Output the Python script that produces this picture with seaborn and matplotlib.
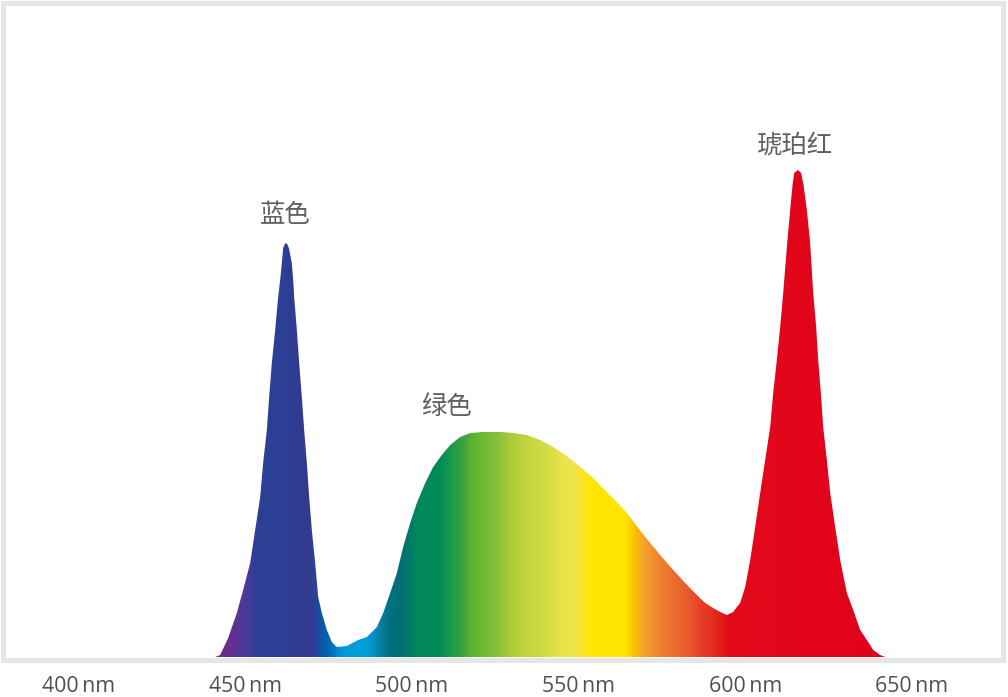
import numpy as np
import matplotlib
matplotlib.use("Agg")
import matplotlib.pyplot as plt
import seaborn as sns
from matplotlib.colors import LinearSegmentedColormap, to_rgb
from matplotlib.patches import Rectangle

# ---- data (relative intensity, arbitrary units) ----
wavelength = [441.0, 442.5, 444.9, 447.5, 449.4, 451.5, 453.0, 454.5, 455.4, 456.5,
              457.2, 458.0, 459.0, 459.9, 460.5, 461.0, 461.4, 461.9, 462.3, 462.6,
              463.1, 464.0, 464.4, 464.7, 465.5, 466.2, 467.0, 467.7, 468.5, 469.2,
              470.0, 471.0, 471.9, 473.0, 474.5, 476.0, 477.5, 480.5, 483.9, 486.5,
              489.5, 491.4, 493.5, 495.5, 497.4, 499.5, 501.5, 504.0, 506.4, 509.0,
              511.5, 514.5, 517.5, 521.4, 526.5, 530.4, 534.5, 538.5, 542.4, 546.5,
              550.5, 554.4, 558.5, 561.5, 564.5, 567.9, 571.5, 575.0, 578.4, 582.0,
              585.5, 588.0, 590.4, 592.5, 594.5, 596.4, 597.5, 598.5, 600.0, 601.5,
              603.0, 604.5, 606.0, 607.5, 608.4, 609.5, 610.5, 611.4, 612.6, 613.5,
              614.2, 614.7, 615.8, 616.8, 617.5, 618.5, 619.5, 620.4, 621.3, 621.9,
              622.7, 623.4, 624.5, 625.5, 627.0, 628.5, 630.5, 632.4, 634.5, 636.5,
              638.4, 640.5, 642.0]
intensity = [0, 2, 19, 44, 67, 94, 127, 160, 194, 227,
             260, 294, 327, 360, 377, 394, 409, 413, 414, 413,
             409, 394, 377, 360, 327, 294, 260, 227, 194, 160,
             127, 94, 60, 44, 27, 15, 10, 11, 17, 20,
             30, 44, 64, 84, 110, 134, 154, 174, 190, 202,
             212, 220, 224, 225, 225, 224, 222, 217, 210, 201,
             190, 179, 165, 155, 144, 129, 114, 100, 87, 74,
             62, 54, 49, 45, 42, 45, 50, 54, 70, 97,
             130, 164, 197, 230, 264, 297, 330, 364, 414, 447,
             472, 484, 487, 484, 472, 447, 414, 364, 330, 297,
             264, 230, 197, 164, 130, 97, 64, 47, 27, 17,
             7, 2, 0]

tick_values = [400, 450, 500, 550, 600, 650]
tick_labels = [f"{v}\u2009nm" for v in tick_values]

peak_labels = ["蓝色", "绿色", "琥珀红"]
peak_label_x = [462.0, 510.3, 615.0]
peak_label_y = [442, 250, 511]

# spectrum colour stops (wavelength, colour)
stop_nm = [441.0, 446, 450, 453, 458, 462, 466, 469, 471, 473, 475, 477.5, 480, 485,
           488, 490, 493, 496, 499, 502, 508, 512, 515, 518, 521, 526, 530, 536, 541,
           545, 548, 551, 554, 564, 566.5, 569.5, 574, 579, 583, 586, 591, 595, 642]
stop_col = ["#6b2a8b", "#66308f", "#4c3a9a", "#2f3f95", "#2a4196", "#2b3f95", "#313b8f",
            "#343a8e", "#28439b", "#0a57a8", "#0066b3", "#0088cc", "#009ad8", "#00a0dc",
            "#0395cc", "#0a82a8", "#037282", "#006e78", "#00796a", "#00885a", "#008a58",
            "#1d9a4a", "#3aa040", "#5ab432", "#6cb834", "#8cc03a", "#b0cc3c", "#c8d640",
            "#d6dc44", "#eae24c", "#f0e44c", "#f8e62a", "#ffe600", "#ffe600", "#fcc400",
            "#f5a22c", "#ef8430", "#eb6a30", "#e85a2e", "#e64428", "#e3281e", "#e20a1a",
            "#e2001a"]

# ---- figure ----
sns.set_theme(style="white")
W, H, DPI = 1008, 697, 100
fig = plt.figure(figsize=(W / DPI, H / DPI), dpi=DPI)
fig.patch.set_facecolor("white")

base_px = 657          # baseline (from top)
px_per_nm = 166.67 / 50
x400_px = 78.5
xmin = 400 - x400_px / px_per_nm
xmax = 400 + (W - x400_px) / px_per_nm

ax = fig.add_axes([0, (H - base_px) / H, 1, base_px / H])
ax.set_xlim(xmin, xmax)
ax.set_ylim(0, base_px)
ax.set_facecolor("white")
for s in ax.spines.values():
    s.set_visible(False)

df = {"wavelength": wavelength, "intensity": intensity}
sns.lineplot(x="wavelength", y="intensity", data=df, ax=ax, linewidth=0, color="#e2001a")

poly = ax.fill_between(wavelength, intensity, 0, facecolor="none", edgecolor="none")
clip = poly.get_paths()[0]

lo, hi = stop_nm[0], stop_nm[-1]
cmap = LinearSegmentedColormap.from_list(
    "spec", [((n - lo) / (hi - lo), to_rgb(c)) for n, c in zip(stop_nm, stop_col)], N=1024)
grad = np.linspace(0, 1, 1200).reshape(1, -1)
im = ax.imshow(grad, cmap=cmap, aspect="auto", extent=[lo, hi, 0, max(intensity) + 5],
               origin="lower", interpolation="bilinear", zorder=2)
im.set_clip_path(clip, transform=ax.transData)

for t, xv, yv in zip(peak_labels, peak_label_x, peak_label_y):
    ax.text(xv, yv, t, ha="center", va="center", fontsize=18.3, color="#606060",
            family=["Noto Sans CJK SC", "DejaVu Sans"], zorder=3)

ax.set_xticks(tick_values)
ax.set_xticklabels(tick_labels, fontsize=15.3, color="#505050",
                   family=["Open Sans", "DejaVu Sans"])
ax.tick_params(axis="x", length=0, pad=14)
ax.set_yticks([])
ax.set_xlabel("")
ax.set_ylabel("")

# light grey frame
frame = Rectangle((2.5 / W, (H - 659.5) / H), 1000 / W, 657 / H, transform=fig.transFigure,
                  fill=False, edgecolor="#e6e6e6", linewidth=5 * 72 / DPI, zorder=10)
fig.patches.append(frame)

fig.savefig("out.png", dpi=DPI, facecolor="white")
